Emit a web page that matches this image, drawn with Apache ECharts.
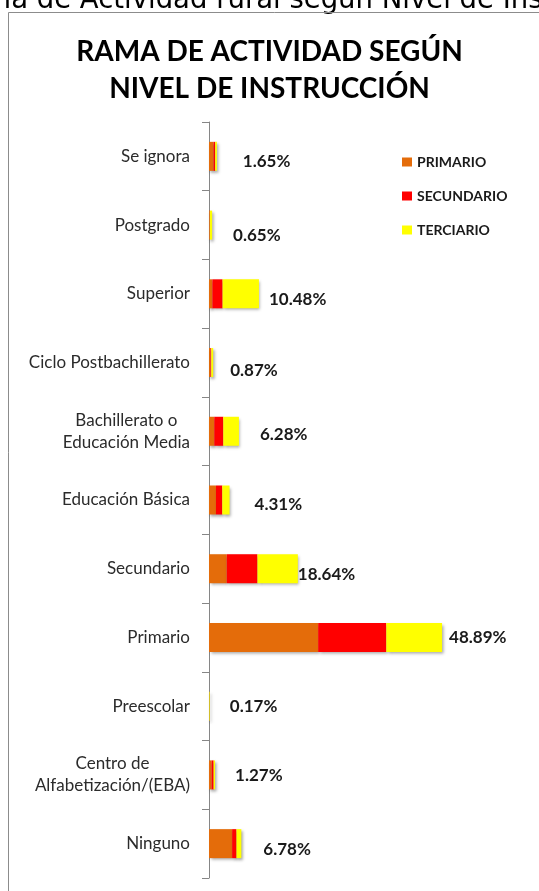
<!DOCTYPE html>
<html>
<head>
<meta charset="utf-8">
<script src="https://cdn.jsdelivr.net/npm/echarts@6/dist/echarts.min.js"></script>
<style>
  html, body { margin: 0; padding: 0; background: #fff; }
  #chart { width: 539px; height: 891px; }
</style>
</head>
<body>
<div id="chart"></div>
<script>
// categories top to bottom, as in the picture
const categories = [
  'Se ignora', 'Postgrado', 'Superior', 'Ciclo Postbachillerato',
  'Bachillerato o\nEducación Media', 'Educación Básica', 'Secundario',
  'Primario', 'Preescolar', 'Centro de\nAlfabetización/(EBA)', 'Ninguno'
];
const primario   = [0.95, 0.05, 0.70, 0.30, 1.10, 1.46, 3.72, 22.90, 0.02, 0.55, 4.85];
const secundario = [0.35, 0.10, 2.15, 0.17, 1.90, 1.32, 6.45, 14.30, 0.03, 0.42, 0.92];
const terciario  = [0.35, 0.50, 7.63, 0.40, 3.28, 1.53, 8.47, 11.69, 0.12, 0.30, 1.01];
const totals     = [1.65, 0.65, 10.48, 0.87, 6.28, 4.31, 18.64, 48.89, 0.17, 1.27, 6.78];
const seriesNames = ['PRIMARIO', 'SECUNDARIO', 'TERCIARIO'];

const chart = echarts.init(document.getElementById('chart'));

// labels were placed by hand in the original, nudge them the same way
const labelNudge = [[26, 5], [21, 10], [10, 6], [17, 8], [21, 3], [25, 5], [0, 6], [7, 0], [20, 0], [20, 1], [22, 6]];

const barShadow = {
  shadowColor: 'rgba(0,0,0,0.35)',
  shadowBlur: 3,
  shadowOffsetX: 1.5,
  shadowOffsetY: 2
};

const makeSeries = (name, data, color) => ({
  name: name,
  type: 'bar',
  stack: 'total',
  barWidth: 29,
  data: data,
  itemStyle: Object.assign({color: color}, barShadow),
  emphasis: {disabled: true}
});

const series = [
  makeSeries(seriesNames[0], primario, '#e46c0a'),
  makeSeries(seriesNames[1], secundario, '#ff0000'),
  makeSeries(seriesNames[2], terciario.map((v, i) => ({
    value: v,
    label: {offset: labelNudge[i]}
  })), '#ffff00')
];
series[2].label = {
  show: true,
  position: 'right',
  distance: 0,
  formatter: p => totals[p.dataIndex].toFixed(2) + '%',
  fontFamily: 'Lato',
  fontWeight: 'bold',
  fontSize: 17,
  color: '#1a1a1a'
};

chart.setOption({
  animation: false,
  backgroundColor: '#fff',
  title: {
    text: 'RAMA DE ACTIVIDAD SEGÚN\nNIVEL DE INSTRUCCIÓN',
    left: 'center',
    top: 28,
    textStyle: {
      fontFamily: 'Lato',
      fontWeight: 'bold',
      fontSize: 28,
      lineHeight: 37,
      color: '#000'
    }
  },
  legend: {
    orient: 'vertical',
    left: 397,
    top: 150,
    itemWidth: 10,
    itemHeight: 9,
    itemGap: 20,
    icon: 'rect',
    data: seriesNames,
    selectedMode: false,
    textStyle: {
      fontFamily: 'Lato',
      fontWeight: 'bold',
      fontSize: 14,
      lineHeight: 14,
      color: '#1a1a1a'
    }
  },
  grid: {
    left: 209,
    top: 122,
    bottom: 13,
    width: 286
  },
  xAxis: {
    type: 'value',
    min: 0,
    max: 60,
    show: false
  },
  yAxis: {
    type: 'category',
    inverse: true,
    data: categories,
    axisLine: {show: true, lineStyle: {color: '#868686', width: 1}},
    axisTick: {show: true, length: 7, lineStyle: {color: '#868686', width: 1}},
    axisLabel: {
      margin: 19,
      formatter: v => v.split('\n').map(s => '{c|' + s + '}').join('\n'),
      rich: {
        c: {
          align: 'center',
          fontFamily: 'Lato',
          fontSize: 17,
          lineHeight: 22,
          color: '#2b2b2b'
        }
      }
    }
  },
  graphic: [
    {
      type: 'text',
      left: -51,
      top: -13,
      silent: true,
      style: {
        text: 'Rama de Actividad rural según Nivel de Instrucción',
        fontFamily: 'DejaVu Sans',
        fontSize: 27.5,
        fill: '#000'
      }
    },
    {
      type: 'rect',
      silent: true,
      shape: {x: 8.5, y: 12.5, width: 700, height: 1000},
      style: {fill: 'none', stroke: '#8c8c8c', lineWidth: 1}
    }
  ],
  series: series
});
</script>
</body>
</html>
